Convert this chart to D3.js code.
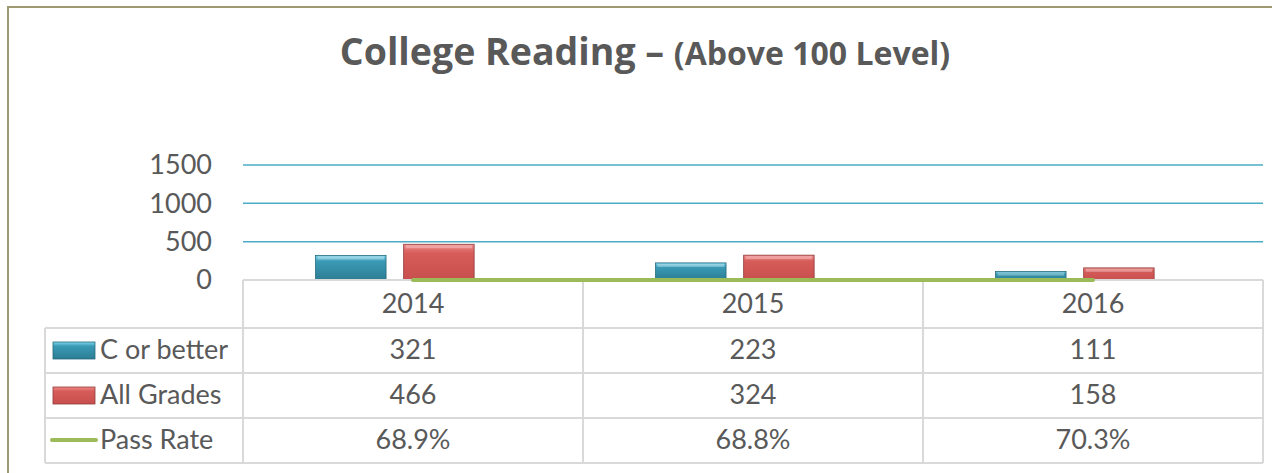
<!DOCTYPE html>
<html>
<head>
<meta charset="utf-8">
<script src="https://cdn.jsdelivr.net/npm/d3@7"></script>
<style>
  html, body { margin: 0; padding: 0; background: #fff; }
  svg { display: block; }
  text { font-family: Lato, "Open Sans", sans-serif; fill: #595959; }
</style>
</head>
<body>
<div id="chart"></div>
<script>
// data
var years = ["2014", "2015", "2016"];
var cOrBetter = [321, 223, 111];
var allGrades = [466, 324, 158];
var passRate = [68.9, 68.8, 70.3];
var yTicks = [0, 500, 1000, 1500];
var seriesNames = ["C or better", "All Grades", "Pass Rate"];

var W = 1272, H = 473;
var plotLeft = 243, plotRight = 1263, plotTop = 165, plotBottom = 280;
var tableLeft = 45, headerH = 48, rowH = 45;

var svg = d3.select("#chart").append("svg").attr("width", W).attr("height", H);

// outer frame (runs off the right/bottom edge in the picture)
svg.append("rect").attr("x", 8).attr("y", 7).attr("width", W + 20).attr("height", H + 20)
  .attr("fill", "#fff").attr("stroke", "#9e9873").attr("stroke-width", 2);

// title
var title = svg.append("text").attr("x", 645).attr("y", 65).attr("text-anchor", "middle")
  .style("font-weight", "bold").style("font-family", "'Open Sans', sans-serif");
title.append("tspan").style("font-size", "37.5px").text("College Reading – ");
title.append("tspan").style("font-size", "32px").text("(Above 100 Level)");

var y = d3.scaleLinear().domain([0, 1500]).range([plotBottom, plotTop]);
var x0 = d3.scaleBand().domain(years).range([plotLeft, plotRight]);
var x1 = d3.scaleBand().domain([0, 1]).range([0, x0.bandwidth()])
  .paddingInner(0.2).paddingOuter(1.03).align(0.4);

// gridlines
svg.append("g").selectAll("line").data(yTicks.filter(function(d){ return d > 0; })).enter()
  .append("line")
  .attr("x1", plotLeft).attr("x2", plotRight)
  .attr("y1", function(d){ return y(d); }).attr("y2", function(d){ return y(d); })
  .attr("stroke", "#4bacc6").attr("stroke-width", 1.5);

// y labels
svg.append("g").selectAll("text").data(yTicks).enter().append("text")
  .attr("x", 212).attr("y", function(d){ return y(d); }).attr("dy", "0.35em")
  .attr("text-anchor", "end").style("font-size", "27px")
  .text(function(d){ return d; });

// gradients for the bevelled bars
var defs = svg.append("defs");
function grad(id, top, mid, bot) {
  var g = defs.append("linearGradient").attr("id", id).attr("x1", 0).attr("x2", 0).attr("y1", 0).attr("y2", 1);
  g.append("stop").attr("offset", "0%").attr("stop-color", top);
  g.append("stop").attr("offset", "25%").attr("stop-color", mid);
  g.append("stop").attr("offset", "100%").attr("stop-color", bot);
}
grad("gTeal", "#7fd5ec", "#3a9ab5", "#2c7d93");
grad("gRed", "#f08a88", "#d65c5a", "#c84f4d");
var fills = ["url(#gTeal)", "url(#gRed)"];
var strokes = ["#256a7d", "#8e3a38"];

var barData = [];
years.forEach(function(yr, i){
  barData.push({year: yr, s: 0, v: cOrBetter[i]});
  barData.push({year: yr, s: 1, v: allGrades[i]});
});

var bars = svg.append("g").selectAll("g").data(barData).enter().append("g");
bars.append("rect")
  .attr("x", function(d){ return x0(d.year) + x1(d.s); })
  .attr("y", function(d){ return y(d.v); })
  .attr("width", x1.bandwidth())
  .attr("height", function(d){ return plotBottom - y(d.v); })
  .attr("fill", function(d){ return fills[d.s]; })
  .attr("stroke", function(d){ return strokes[d.s]; }).attr("stroke-width", 0.8);
// bevel highlight on top edge
bars.append("rect")
  .attr("x", function(d){ return x0(d.year) + x1(d.s) + 2; })
  .attr("y", function(d){ return y(d.v) + 1; })
  .attr("width", x1.bandwidth() - 4)
  .attr("height", 3)
  .attr("fill", "#fff").attr("opacity", 0.3);

// table grid
var tableBottom = plotBottom + headerH + rowH * 3;
var grid = svg.append("g").attr("stroke", "#d9d9d9").attr("stroke-width", 2).attr("fill", "none");
grid.append("line").attr("x1", plotLeft).attr("x2", plotRight).attr("y1", plotBottom).attr("y2", plotBottom);
[0, 1, 2, 3].forEach(function(i){
  var yy = plotBottom + headerH + rowH * i;
  grid.append("line").attr("x1", tableLeft).attr("x2", plotRight).attr("y1", yy).attr("y2", yy);
});
grid.append("line").attr("x1", tableLeft).attr("x2", tableLeft).attr("y1", plotBottom + headerH).attr("y2", tableBottom);
years.forEach(function(yr){
  grid.append("line").attr("x1", x0(yr)).attr("x2", x0(yr)).attr("y1", plotBottom).attr("y2", tableBottom);
});
grid.append("line").attr("x1", plotRight).attr("x2", plotRight).attr("y1", plotBottom).attr("y2", tableBottom);

// pass rate line (percent values sit at the bottom of the count axis)
var line = d3.line().x(function(d, i){ return x0(years[i]) + x0.bandwidth() / 2; })
  .y(function(d){ return y(d / 100); });
svg.append("path").datum(passRate).attr("d", line)
  .attr("fill", "none").attr("stroke", "#9bbb59").attr("stroke-width", 4).attr("stroke-linecap", "round");

// header row
svg.append("g").selectAll("text").data(years).enter().append("text")
  .attr("x", function(d){ return x0(d) + x0.bandwidth() / 2; })
  .attr("y", plotBottom + 33).attr("text-anchor", "middle").style("font-size", "27px")
  .text(function(d){ return d; });

var rows = [
  cOrBetter.map(String),
  allGrades.map(String),
  passRate.map(function(d){ return d.toFixed(1) + "%"; })
];
rows.forEach(function(vals, r){
  var top = plotBottom + headerH + rowH * r;
  svg.append("g").selectAll("text").data(vals).enter().append("text")
    .attr("x", function(d, i){ return x0(years[i]) + x0.bandwidth() / 2; })
    .attr("y", top + 31).attr("text-anchor", "middle").style("font-size", "27px")
    .text(function(d){ return d; });
  svg.append("text").attr("x", 100).attr("y", top + 31).style("font-size", "27px").text(seriesNames[r]);
  // legend keys
  if (r < 2) {
    svg.append("rect").attr("x", 53).attr("y", top + 14).attr("width", 42).attr("height", 17)
      .attr("fill", fills[r]).attr("stroke", strokes[r]).attr("stroke-width", 0.8);
  } else {
    svg.append("line").attr("x1", 52).attr("x2", 96).attr("y1", top + 22).attr("y2", top + 22)
      .attr("stroke", "#9bbb59").attr("stroke-width", 4).attr("stroke-linecap", "round");
  }
});
</script>
</body>
</html>
